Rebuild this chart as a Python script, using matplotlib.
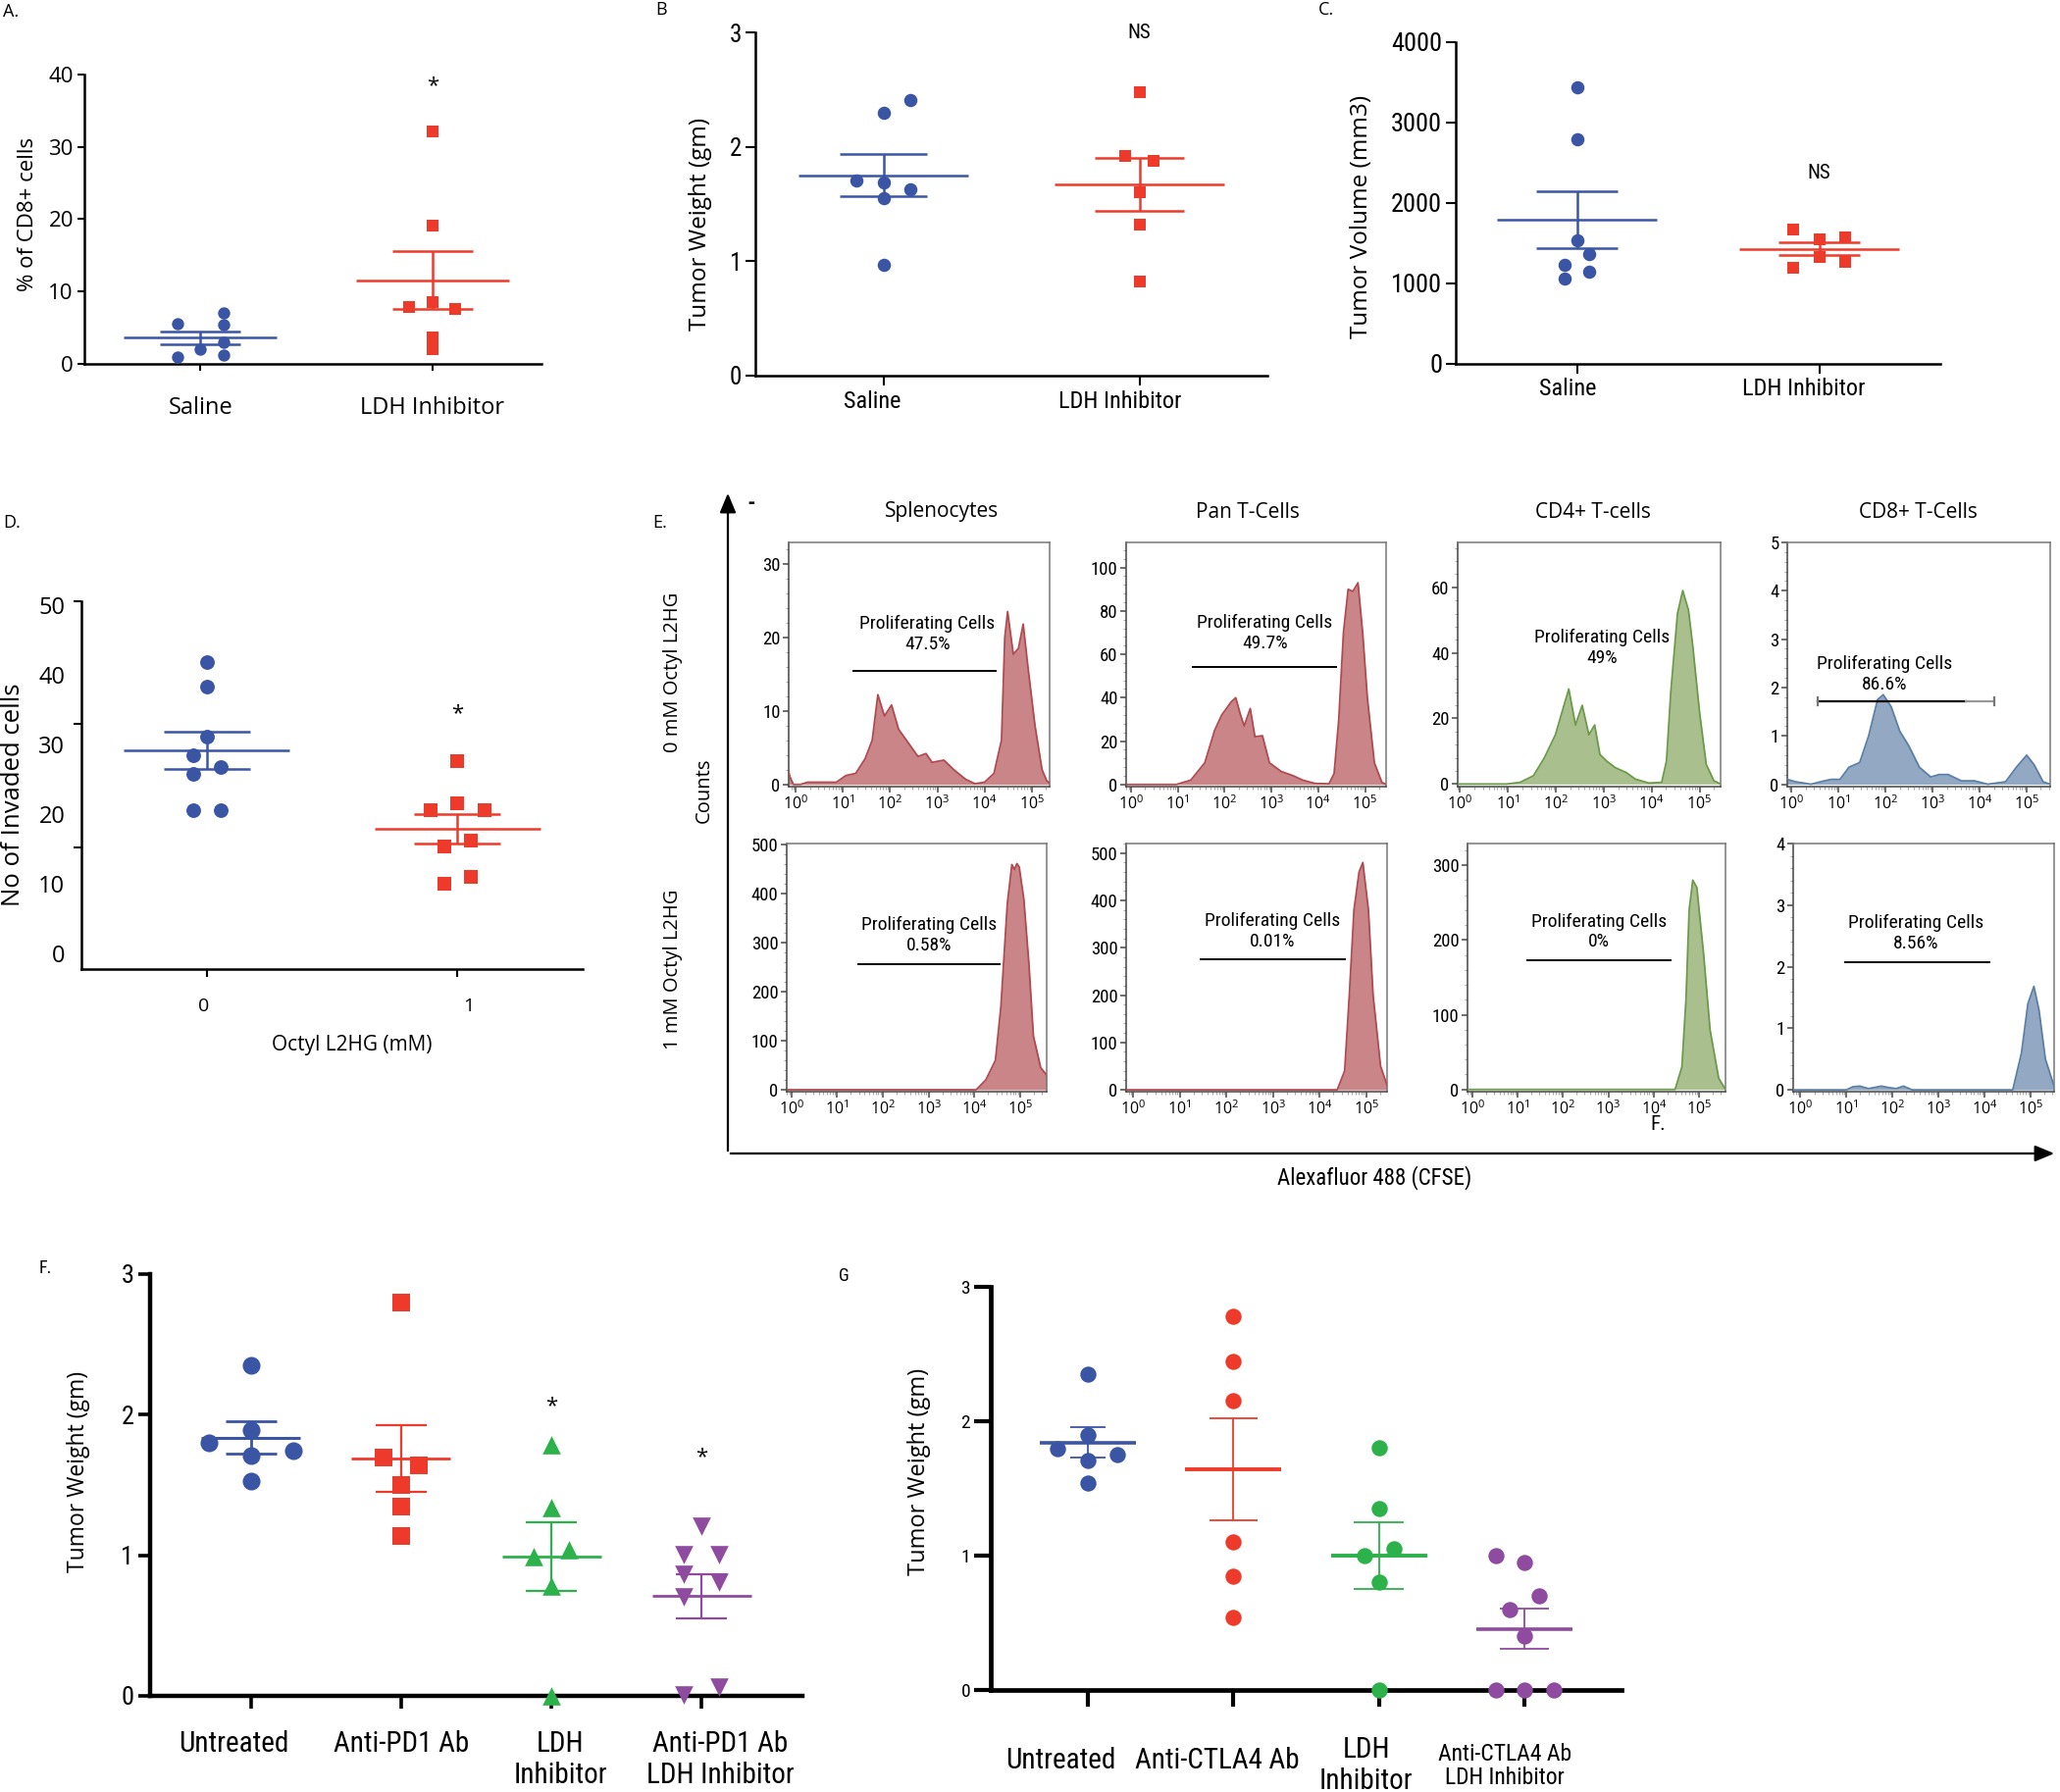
import numpy as np
import matplotlib
matplotlib.use('Agg')
import matplotlib.pyplot as plt
from matplotlib import font_manager as fm
from matplotlib.patches import FancyArrowPatch
from matplotlib.transforms import ScaledTranslation
from matplotlib.ticker import FixedLocator, NullFormatter, LogLocator, AutoMinorLocator, LogFormatterMathtext

names = {f.name for f in fm.fontManager.ttflist}
MAIN = 'Open Sans' if 'Open Sans' in names else 'DejaVu Sans'
COND = next((n for n in ['Liberation Sans Narrow', 'Roboto Condensed', 'Open Sans Condensed', 'Lato'] if n in names), MAIN)
plt.rcParams['font.family'] = [MAIN, 'DejaVu Sans']
plt.rcParams['mathtext.fontset'] = 'custom'
plt.rcParams['mathtext.rm'] = MAIN
plt.rcParams['mathtext.it'] = MAIN
plt.rcParams['mathtext.bf'] = MAIN

# ---------------- data ----------------
A_cats = ['Saline', 'LDH Inhibitor']
A_saline = [5.6, 7.1, 5.4, 2.0, 3.0, 1.0, 1.2]
A_ldh = [32.2, 19.1, 8.5, 7.8, 7.6, 3.6, 2.0]
A_saline_jit = [-0.1, 0.1, 0.1, 0, 0.1, -0.1, 0.1]
A_ldh_jit = [0, 0, 0, -0.1, 0.1, 0, 0]
A_yticks = [0, 10, 20, 30, 40]

B_cats = ['Saline', 'LDH Inhibitor']
B_saline = [2.41, 2.30, 1.71, 1.69, 1.63, 1.55, 0.97]
B_ldh = [2.48, 1.92, 1.88, 1.60, 1.32, 0.82]
B_saline_jit = [0.106, 0, -0.106, 0, 0.106, 0, 0]
B_ldh_jit = [0, -0.054, 0.054, 0, 0, 0]
B_yticks = [0, 1, 2, 3]

C_cats = ['Saline', 'LDH Inhibitor']
C_saline = [3442, 2796, 1535, 1362, 1228, 1147, 1067]
C_ldh = [1669, 1543, 1576, 1333, 1273, 1192]
C_saline_jit = [0, 0, 0, 0.05, -0.05, 0.05, -0.05]
C_ldh_jit = [-0.108, 0, 0.108, 0, 0.108, -0.108]
C_yticks = [0, 1000, 2000, 3000, 4000]

D_cats = ['0', '1']
D_0mM = [41.8, 38.3, 31.1, 28.5, 26.8, 25.8, 20.6, 20.6]
D_1mM = [27.6, 21.5, 20.6, 20.6, 16.2, 15.3, 10.9, 10.0]
D_0_jit = [0, 0, 0, -0.054, 0.054, -0.054, -0.054, 0.054]
D_1_jit = [0, 0, -0.107, 0.107, 0.053, -0.053, 0.053, -0.053]
D_yticks = [0, 10, 20, 30, 40, 50]

F_cats = ['Untreated', 'Anti-PD1 Ab', 'LDH\nInhibitor', 'Anti-PD1 Ab\nLDH Inhibitor']
F_untreated = [2.35, 1.89, 1.80, 1.745, 1.71, 1.53]
F_pd1 = [2.80, 1.695, 1.64, 1.50, 1.35, 1.14]
F_ldh = [1.787, 1.337, 0.99, 1.04, 0.78, 0.0]
F_combo = [1.208, 1.007, 1.007, 0.866, 0.81, 0.705, 0.01, 0.06]
F_jits = [[0, 0, -0.28, 0.28, 0, 0],
          [0, -0.117, 0.117, 0, 0, 0],
          [0, 0, -0.117, 0.117, 0, 0],
          [0, -0.117, 0.117, -0.117, 0.117, -0.117, -0.117, 0.117]]
F_yticks = [0, 1, 2, 3]

G_cats = ['Untreated', 'Anti-CTLA4 Ab', 'LDH\nInhibitor', 'Anti-CTLA4 Ab\nLDH Inhibitor']
G_untreated = [2.35, 1.90, 1.795, 1.75, 1.707, 1.537]
G_ctla4 = [2.78, 2.448, 2.152, 1.10, 0.849, 0.54]
G_ldh = [1.80, 1.351, 1.0, 1.049, 0.803, 0.0]
G_combo = [1.0, 0.949, 0.698, 0.598, 0.402, 0.0, 0.0, 0.0]
G_jits = [[0, 0, -0.205, 0.205, 0, 0],
          [0, 0, 0, 0, 0, 0],
          [0, 0, -0.1, 0.1, 0, 0],
          [-0.2, 0, 0.1, -0.1, 0, -0.2, 0, 0.2]]
G_yticks = [0, 1, 2, 3]

# significance annotations (category index, value, text)
A_sig = [(1, 38.4, '*')]
B_sig = [(1, 3.0, 'NS')]
C_sig = [(1, 2366, 'NS')]
D_sig = [(1, 34.4, '*')]
F_sig = [(2, 2.06, '*'), (3, 1.70, '*')]

# ---- panel E flow histograms: log10(CFSE) vs counts ----
E_cols = ['Splenocytes', 'Pan T-Cells', 'CD4+ T-cells', 'CD8+ T-Cells']
E_rows = ['0 mM Octyl L2HG', '1 mM Octyl L2HG']
E1_logx = [-0.15, -0.12, -0.05, 0.1, 0.25, 0.86, 1.06, 1.27, 1.47, 1.62, 1.74, 1.88, 2.03, 2.18, 2.38, 2.59,
           2.76, 2.89, 3.14, 3.35, 3.6, 3.8, 4.0, 4.2, 4.36, 4.43, 4.49, 4.61, 4.72, 4.82, 4.92, 5.07, 5.22, 5.32, 5.38]
E1_counts = [1.7, 1.0, 0.0, 0.0, 0.3, 0.3, 1.2, 1.5, 3.5, 6.0, 12.2, 9.3, 10.8, 7.5, 5.7, 3.8,
             4.2, 3.0, 3.3, 2.0, 0.7, 0.1, 0.3, 1.5, 6.0, 20.0, 23.5, 17.7, 18.5, 21.8, 16.0, 8.0, 2.0, 0.5, 0.2]
E2_logx = [-0.1, 0.97, 1.28, 1.58, 1.79, 1.94, 2.14, 2.24, 2.33, 2.42, 2.55, 2.65, 2.81, 2.96, 3.21, 3.47,
           3.67, 3.93, 4.23, 4.34, 4.44, 4.54, 4.64, 4.74, 4.85, 4.95, 5.05, 5.2, 5.36, 5.45]
E2_counts = [0, 0, 2, 10, 25, 32, 38, 40, 33, 27, 35, 22, 22.5, 10, 6, 4,
             2, 0.5, 0.3, 5, 30, 70, 90, 89, 93, 70, 40, 10, 1, 0]
E3_logx = [-0.05, 0.97, 1.25, 1.53, 1.76, 1.99, 2.13, 2.27, 2.41, 2.55, 2.69, 2.81, 2.92, 3.06, 3.24, 3.47,
           3.66, 3.94, 4.21, 4.31, 4.4, 4.54, 4.65, 4.77, 4.86, 5.0, 5.14, 5.3, 5.44]
E3_counts = [0, 0, 0.5, 2.5, 8, 15, 22, 29, 18, 24, 15, 18, 9, 7, 5, 3.5,
             1.5, 0.3, 0.5, 7, 28, 52, 59, 53, 42, 22, 6, 1, 0]
E4_logx = [-0.09, 0.09, 0.42, 0.61, 0.84, 1.03, 1.22, 1.45, 1.64, 1.83, 1.95, 2.12, 2.3, 2.49, 2.72, 2.96,
           3.14, 3.33, 3.61, 3.89, 4.17, 4.55, 4.78, 5.0, 5.16, 5.35, 5.5]
E4_counts = [0.1, 0.05, 0, 0.05, 0.1, 0.1, 0.35, 0.45, 1.0, 1.75, 1.85, 1.6, 1.1, 0.8, 0.35, 0.15,
             0.2, 0.2, 0.07, 0.07, 0, 0.05, 0.35, 0.6, 0.4, 0.05, 0]
E5_logx = [-0.1, 4.04, 4.25, 4.46, 4.58, 4.72, 4.82, 4.875, 4.93, 4.98, 5.08, 5.19, 5.29, 5.45, 5.58]
E5_counts = [0, 0, 20, 60, 170, 380, 460, 450, 462, 455, 390, 260, 110, 45, 30]
E6_logx = [-0.15, 4.38, 4.54, 4.64, 4.74, 4.85, 4.93, 5.05, 5.15, 5.31, 5.45]
E6_counts = [0, 0, 40, 200, 380, 460, 480, 380, 200, 50, 10]
E7_logx = [-0.1, 4.47, 4.62, 4.71, 4.78, 4.86, 4.95, 5.1, 5.24, 5.43, 5.58]
E7_counts = [0, 0, 30, 120, 240, 280, 270, 180, 80, 15, 0]
E8_logx = [-0.16, 1.0, 1.14, 1.29, 1.48, 1.76, 1.9, 2.08, 2.24, 2.43, 4.62, 4.81, 4.95, 5.08, 5.19, 5.33, 5.48, 5.52]
E8_counts = [0, 0, 0.05, 0.06, 0.02, 0.06, 0.04, 0.02, 0.06, 0, 0, 0.6, 1.4, 1.68, 1.3, 0.5, 0.15, 0.05]
E_yticks = [[0, 10, 20, 30], [0, 20, 40, 60, 80, 100], [0, 20, 40, 60], [0, 1, 2, 3, 4, 5],
            [0, 100, 200, 300, 400, 500], [0, 100, 200, 300, 400, 500], [0, 100, 200, 300], [0, 1, 2, 3, 4]]
E_pct = ['47.5%', '49.7%', '49%', '86.6%', '0.58%', '0.01%', '0%', '8.56%']
# gate: (log10 start, log10 end, count level) ; None = no gate drawn
E_gates = [(1.22, 4.23, 15.5), (1.33, 4.39, 54), None, (0.56, 4.32, 1.72),
           (1.46, 4.56, 257), (1.44, 4.54, 275), (1.22, 4.36, 173), (0.98, 4.1, 2.08)]
# label anchor: (log10 x, count)
E_label_pos = [(2.79, 20.4), (2.86, 69.7), (2.96, 41.5), (1.97, 2.28),
               (3.0, 316), (2.99, 334), (2.79, 211), (2.52, 2.54)]

# ---------------- layout helpers ----------------
W, H = 2100, 1827
fig = plt.figure(figsize=(W / 100, H / 100), dpi=100)


def add_ax(l, t, r, b):
    return fig.add_axes([l / W, 1 - b / H, (r - l) / W, (b - t) / H])


def ftext(x, y, s, **kw):
    kw.setdefault('ha', 'center')
    kw.setdefault('va', 'center')
    fig.text(x / W, 1 - y / H, s, **kw)


def shift_xlabels(ax, dx_px, dy_px=None):
    if dy_px is None:
        dy_px = [0] * len(dx_px)
    for t, dx, dy in zip(ax.get_xticklabels(), dx_px, dy_px):
        t.set_transform(t.get_transform() + ScaledTranslation(dx / 100, -dy / 100, fig.dpi_scale_trans))


BLUE, RED, GREEN, PURPLE = '#3B55A5', '#EE3A2A', '#2CB14B', '#8E4B9F'


def dot_panel(ax, groups, jits, colors, markers, sizes, lw_mean, lw_sem, sem_hw, mean_hw=0.33):
    for i, vals in enumerate(groups):
        vals = np.asarray(vals, float)
        x = i + np.asarray(jits[i], float)
        ax.scatter(x, vals, s=sizes[i], marker=markers[i], color=colors[i], linewidths=0,
                   zorder=3, clip_on=False)
        m = vals.mean()
        se = vals.std(ddof=1) / np.sqrt(len(vals))
        ax.hlines(m, i - mean_hw, i + mean_hw, color=colors[i], lw=lw_mean[i], zorder=4)
        ax.hlines([m - se, m + se], i - sem_hw[i], i + sem_hw[i], color=colors[i], lw=lw_sem[i], zorder=4)
        ax.vlines(i, m - se, m + se, color=colors[i], lw=lw_sem[i], zorder=4)


def style_dot(ax, spine_lw, tick_len, tick_w, ysize, xsize, xpad, ypad=3, xfont=None, yfont=None):
    for s in ['top', 'right']:
        ax.spines[s].set_visible(False)
    for s in ['left', 'bottom']:
        ax.spines[s].set_linewidth(spine_lw)
    ax.tick_params(axis='both', direction='out', length=tick_len, width=tick_w)
    ax.tick_params(axis='y', labelsize=ysize, pad=ypad)
    ax.tick_params(axis='x', labelsize=xsize, pad=xpad)
    if xfont:
        for t in ax.get_xticklabels():
            t.set_fontfamily(xfont)
    if yfont:
        for t in ax.get_yticklabels():
            t.set_fontfamily(yfont)
    ax.patch.set_alpha(0)


# ---------------- Panel A ----------------
axA = add_ax(86, 76, 552, 371)
dot_panel(axA, [A_saline, A_ldh], [A_saline_jit, A_ldh_jit], [BLUE, RED], ['o', 's'], [80, 70],
          [1.8, 1.8], [1.8, 1.8], [0.174, 0.174])
axA.set_xlim(-0.5, 1.47)
axA.set_ylim(0, 40)
axA.set_yticks(A_yticks)
axA.set_xticks(range(2), A_cats)
style_dot(axA, 1.8, 5, 1.5, 16, 17, 19)
for i, v, s in A_sig:
    axA.text(i, v, s, ha='center', va='center', fontsize=16)
ftext(28, 218, '% of CD8+ cells', rotation=90, fontsize=16)
ftext(3, 12, 'A.', ha='left', fontsize=13)

# ---------------- Panel B ----------------
axB = add_ax(770, 33, 1292, 383)
dot_panel(axB, [B_saline, B_ldh], [B_saline_jit, B_ldh_jit], [BLUE, RED], ['o', 's'], [95, 85],
          [1.8, 1.8], [1.8, 1.8], [0.172, 0.174])
axB.set_xlim(-0.5, 1.5)
axB.set_ylim(0, 3)
axB.set_yticks(B_yticks)
axB.set_xticks(range(2), B_cats)
style_dot(axB, 1.8, 7, 1.5, 18, 17.5, 4, xfont=COND, yfont=COND)
shift_xlabels(axB, [-11, -20])
for i, v, s in B_sig:
    axB.text(i, v, s, ha='center', va='center', fontsize=15, family=COND)
ftext(714, 228, 'Tumor Weight (gm)', rotation=90, fontsize=17.5)
ftext(668, 10, 'B', ha='left', fontsize=13)

# ---------------- Panel C ----------------
axC = add_ax(1484, 43, 1978, 371)
dot_panel(axC, [C_saline, C_ldh], [C_saline_jit, C_ldh_jit], [BLUE, RED], ['o', 's'], [95, 85],
          [1.8, 1.8], [1.8, 1.8], [0.17, 0.17])
axC.set_xlim(-0.5, 1.5)
axC.set_ylim(0, 4000)
axC.set_yticks(C_yticks)
axC.set_xticks(range(2), C_cats)
style_dot(axC, 1.8, 7, 1.5, 19, 17.5, 3, xfont=COND, yfont=COND)
shift_xlabels(axC, [-9, -16])
for i, v, s in C_sig:
    axC.text(i, v, s, ha='center', va='center', fontsize=15, family=COND)
ftext(1388, 221, 'Tumor Volume (mm3)', rotation=90, fontsize=17.5)
ftext(1344, 10, 'C.', ha='left', fontsize=13)

# ---------------- Panel D ----------------
axD = add_ax(83, 613, 594, 988)
dot_panel(axD, [D_0mM, D_1mM], [D_0_jit, D_1_jit], [BLUE, RED], ['o', 's'], [115, 95],
          [1.8, 1.8], [1.8, 1.8], [0.172, 0.172])
axD.set_xlim(-0.5, 1.5)
axD.set_ylim(-2.31, 50.6)
axD.set_yticks(D_yticks)
axD.yaxis.set_minor_locator(FixedLocator([15.23, 32.97, 50.6]))
axD.set_xticks(range(2), D_cats)
style_dot(axD, 1.8, 6, 1.5, 17, 14, 15, ypad=12)
shift_xlabels(axD, [-3, 11])
axD.tick_params(axis='y', which='major', length=0)
axD.tick_params(axis='y', which='minor', length=6, width=1.5, direction='out')
for i, v, s in D_sig:
    axD.text(i, v, s, ha='center', va='center', fontsize=16)
ftext(14, 810, 'No of Invaded cells', rotation=90, fontsize=18.5)
ftext(359, 1066, 'Octyl L2HG (mM)', fontsize=15)
ftext(3, 533, 'D.', ha='left', fontsize=13)

# ---------------- Panel E ----------------
E_boxes = [(804, 553, 1070, 802), (1148, 553, 1413, 802), (1486, 553, 1754, 802), (1822, 553, 2090, 802),
           (802, 860, 1067, 1113), (1148, 860, 1414, 1113), (1496, 860, 1759, 1113), (1828, 860, 2094, 1113)]
E_xlims = [(-0.15, 5.38), (-0.1, 5.45), (-0.05, 5.44), (-0.09, 5.5),
           (-0.1, 5.58), (-0.15, 5.45), (-0.1, 5.58), (-0.16, 5.52)]
E_ylims = [(-0.3, 32.9), (-1, 111.6), (-0.8, 73.7), (-0.05, 5.0),
           (-4, 503), (-4, 520), (-3, 329), (-0.03, 4.0)]
E_fill = ['#C98587', '#C98587', '#A9C08E', '#93A8C2', '#C98587', '#C98587', '#A9C08E', '#93A8C2']
E_edge = ['#B04A50', '#B04A50', '#6C9A4A', '#5B7FA6', '#B04A50', '#B04A50', '#6C9A4A', '#5B7FA6']
E_lx = [E1_logx, E2_logx, E3_logx, E4_logx, E5_logx, E6_logx, E7_logx, E8_logx]
E_ct = [E1_counts, E2_counts, E3_counts, E4_counts, E5_counts, E6_counts, E7_counts, E8_counts]

for k in range(8):
    ax = add_ax(*E_boxes[k])
    xs = 10 ** np.asarray(E_lx[k], float)
    ys = np.asarray(E_ct[k], float)
    ax.fill_between(xs, 0, ys, color=E_fill[k], lw=0, zorder=2)
    ax.plot(xs, ys, color=E_edge[k], lw=1.3, zorder=3)
    ax.set_xscale('log')
    ax.set_xlim(10 ** E_xlims[k][0], 10 ** E_xlims[k][1])
    ax.set_ylim(*E_ylims[k])
    ax.xaxis.set_major_locator(FixedLocator([1, 10, 100, 1e3, 1e4, 1e5]))
    ax.xaxis.set_major_formatter(LogFormatterMathtext())
    ax.xaxis.set_minor_locator(LogLocator(base=10, subs=np.arange(2, 10), numticks=20))
    ax.xaxis.set_minor_formatter(NullFormatter())
    ax.set_yticks(E_yticks[k])
    ax.yaxis.set_minor_locator(AutoMinorLocator(5))
    for s in ax.spines.values():
        s.set_linewidth(1.1)
        s.set_color('#444444')
    ax.spines['top'].set_color('#777777')
    ax.spines['right'].set_color('#777777')
    ax.tick_params(axis='both', which='major', direction='out', length=4, width=1.2, color='#555555')
    ax.tick_params(axis='both', which='minor', direction='out', length=2, width=0.8, color='#aaaaaa')
    ax.tick_params(axis='y', labelsize=13.5, pad=2)
    ax.tick_params(axis='x', labelsize=11.5, pad=2)
    for t in ax.get_yticklabels():
        t.set_fontfamily(COND)
    g = E_gates[k]
    if g is not None:
        if k == 3:
            ax.plot([10 ** g[0], 10 ** 3.7], [g[2], g[2]], color='black', lw=1.6, zorder=4)
            ax.plot([10 ** 3.7, 10 ** g[1]], [g[2], g[2]], color='#999999', lw=1.6, zorder=4)
            ax.plot([10 ** g[0]] * 2, [g[2] - 0.08, g[2] + 0.08], color='#777777', lw=1.6, zorder=4)
            ax.plot([10 ** g[1]] * 2, [g[2] - 0.08, g[2] + 0.08], color='#777777', lw=1.6, zorder=4)
        else:
            ax.plot([10 ** g[0], 10 ** g[1]], [g[2], g[2]], color='black', lw=1.4, zorder=4)
    lp = E_label_pos[k]
    ax.text(10 ** lp[0], lp[1], 'Proliferating Cells\n' + E_pct[k], ha='center', va='center',
            fontsize=14, family=COND, linespacing=1.2, zorder=5)

E_title_x = [960, 1272, 1624, 1955]
for tx, title in zip(E_title_x, E_cols):
    ftext(tx, 522, title, fontsize=15)
ftext(686, 685, E_rows[0], rotation=90, fontsize=14.5)
ftext(686, 988, E_rows[1], rotation=90, fontsize=14.5)
ftext(718, 806, 'Counts', rotation=90, fontsize=14.5)
ftext(1401, 1201, 'Alexafluor 488 (CFSE)', fontsize=16.5, family=COND)
ftext(665, 533, 'E.', ha='left', fontsize=13)
ftext(766, 512, '-', fontsize=15, fontweight='bold')
ftext(1690, 1146, 'F.', fontsize=15, family=COND)
arr_v = FancyArrowPatch((742 / W, 1 - 1176 / H), (742 / W, 1 - 500 / H), transform=fig.transFigure,
                        arrowstyle='-|>,head_length=12,head_width=5', color='black', lw=1.6)
arr_h = FancyArrowPatch((742 / W, 1 - 1176 / H), (2097 / W, 1 - 1176 / H), transform=fig.transFigure,
                        arrowstyle='-|>,head_length=12,head_width=5', color='black', lw=1.6)
fig.add_artist(arr_v)
fig.add_artist(arr_h)

# ---------------- Panel F ----------------
axF = add_ax(153, 1299, 818, 1729)
dot_panel(axF, [F_untreated, F_pd1, F_ldh, F_combo], F_jits, [BLUE, RED, GREEN, PURPLE],
          ['o', 's', '^', 'v'], [170, 150, 180, 180], [2.2, 2.0, 2.0, 2.0], [2.0, 1.6, 1.6, 1.6],
          [0.17, 0.17, 0.17, 0.17])
axF.set_xlim(-0.67, 3.67)
axF.set_ylim(0, 3)
axF.set_yticks(F_yticks)
axF.set_xticks(range(4), F_cats)
style_dot(axF, 3.2, 9, 2.6, 19, 21, 16, xfont=COND, yfont=COND)
shift_xlabels(axF, [-17, 0, 9, 19])
for t in axF.get_xticklabels():
    t.set_linespacing(1.2)
for i, v, s in F_sig:
    axF.text(i, v, s, ha='center', va='center', fontsize=16)
ftext(80, 1500, 'Tumor Weight (gm)', rotation=90, fontsize=16.5)
ftext(40, 1293, 'F.', ha='left', fontsize=13, family=COND)

# ---------------- Panel G ----------------
axG = add_ax(1010, 1312, 1653, 1723)
dot_panel(axG, [G_untreated, G_ctla4, G_ldh, G_combo], G_jits, [BLUE, RED, GREEN, PURPLE],
          ['o', 'o', 'o', 'o'], [140, 140, 140, 140], [2.6, 2.8, 2.8, 2.6], [1.3, 1.3, 1.3, 1.3],
          [0.12, 0.166, 0.173, 0.17])
axG.set_xlim(-0.665, 3.665)
axG.set_ylim(0, 3)
axG.set_yticks(G_yticks)
axG.set_xticks(range(4), G_cats)
style_dot(axG, 3.4, 12, 3.0, 14, 21, 40, xfont=COND, yfont=COND)
shift_xlabels(axG, [-27, -16, -13, -20], [0, 0, 5, 5])
labsG = axG.get_xticklabels()
labsG[3].set_fontsize(17)
for t in labsG:
    t.set_linespacing(1.2)
    t.set_verticalalignment('center')
labsG[3].set_linespacing(1.05)
ftext(937, 1500, 'Tumor Weight (gm)', rotation=90, fontsize=17)
ftext(855, 1301, 'G', ha='left', fontsize=13, family=COND)

fig.savefig('out.png', dpi=100)
